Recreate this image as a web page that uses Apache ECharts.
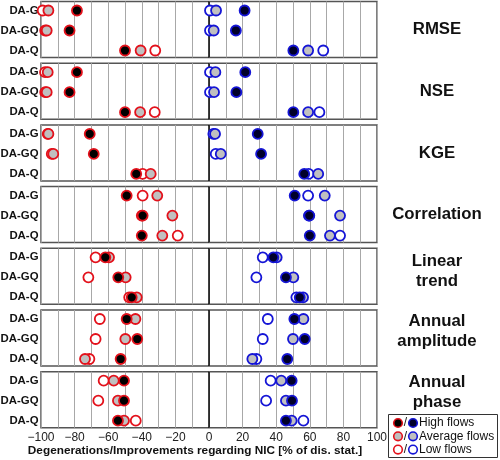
<!DOCTYPE html>
<html><head><meta charset="utf-8">
<script src="https://cdn.jsdelivr.net/npm/echarts@6/dist/echarts.min.js"></script>
<style>html,body{margin:0;padding:0;background:#fff}#c{width:500px;height:460px}</style>
</head><body><div id="c"></div>
<script>
// ---- data ----
const rows = ['DA-G', 'DA-GQ', 'DA-Q'];
const metrics = ['RMSE', 'NSE', 'KGE', 'Correlation', 'Linear\ntrend', 'Annual\namplitude', 'Annual\nphase'];
const xTicks = [-100, -80, -60, -40, -20, 0, 20, 40, 60, 80, 100];
// degenerations (% of stations, negative), rows DA-G, DA-GQ, DA-Q
const degHigh = [[-78.6,-83,-50],[-78.6,-83,-50],[-71,-68.6,-43.3],[-49,-39.5,-40],[-61.7,-54,-46],[-49,-42.7,-52.6],[-50.6,-50.6,-54.2]];
const degAvg  = [[-95.6,-96.6,-40.7],[-96,-96.6,-41],[-95.6,-92.7,-34.7],[-30.8,-21.8,-27.8],[-59.5,-49.6,-43],[-43.8,-49.8,-73.8],[-56.7,-54.2,-50.6]];
const degLow  = [[-99,-97.5,-32],[-97.6,-97.5,-32.3],[-96,-93.6,-39.5],[-39.5,-40,-18.6],[-67.5,-71.8,-47.5],[-65,-67.5,-71.2],[-62.7,-65.9,-43.6]];
// improvements (% of stations, positive)
const impHigh = [[21.2,16,50.2],[21.6,16.3,50.2],[29,31,56.7],[51,59.7,60],[38.3,45.8,54],[50.8,57,46.6],[49.2,49.4,45.8]];
const impAvg  = [[4.2,2.8,59],[3.8,3,59],[3.6,7,65],[68.9,78,72],[40.3,50.2,56],[56.2,50,25.8],[43,45.8,49.2]];
const impLow  = [[0.6,0.6,68],[0.6,0.6,65.7],[2.6,4,59.3],[59,59.5,78],[32,28.2,52],[35,32,28.2],[36.7,34,56.2]];
const legendLabels = ['High flows', 'Average flows', 'Low flows'];

// ---- styles ----
const RED = '#e3111b', BLUE = '#1515d6', GRAY = '#c0c0c0';
const FILL_HIGH_RED = '#000000', FILL_HIGH_BLUE = '#00002a';
const GL = 41, GW = 336, GT0 = 1.5, GSTEP = 61.7, GH = 56;
const FONT = '"Liberation Sans", Arial, Helvetica, sans-serif';
const titleShift = [0, 0, 0, 0, -4.5, -6.5, -7];

const grids = [], xAxes = [], yAxes = [], series = [], graphics = [];
const n = metrics.length;
for (let i = 0; i < n; i++) {
  const top = GT0 + i * GSTEP;
  grids.push({left: GL, width: GW, top: top, height: GH, show: true, borderColor: '#555', borderWidth: 1.5,
    backgroundColor: '#fff', containLabel: false, outerBoundsMode: 'none'});
  const last = i === n - 1;
  xAxes.push({
    type: 'value', gridIndex: i, min: -100, max: 100, interval: 10,
    axisLine: {show: false}, axisTick: {show: false},
    splitLine: {show: true, lineStyle: {color: '#a8a8a8', width: 1}},
    axisLabel: {show: last, margin: 4, fontSize: 12, color: '#222', fontFamily: FONT,
      formatter: v => (xTicks.indexOf(v) >= 0 ? (v < 0 ? '\u2212' + Math.abs(v) : String(v)) : '')},
    name: last ? 'Degenerations/Improvements regarding NIC [% of dis. stat.]' : '',
    nameLocation: 'middle', nameGap: 16,
    nameTextStyle: {fontSize: 11.8, fontWeight: 'bold', color: '#111', fontFamily: FONT, padding: [0, 28, 0, 0]}
  });
  yAxes.push({
    type: 'value', gridIndex: i, inverse: true, min: 0.55, max: 3.35,
    axisLine: {show: false}, axisTick: {show: false}, splitLine: {show: false},
    axisLabel: {customValues: [1, 2, 3], formatter: v => rows[Math.round(v) - 1] || '',
      fontSize: 11.4, fontWeight: 'bold', color: '#111', margin: 2.5, fontFamily: FONT}
  });
  const sets = [
    [degLow, '#fff', RED, 3], [degAvg, GRAY, RED, 4], [degHigh, FILL_HIGH_RED, RED, 5],
    [impLow, '#fff', BLUE, 3], [impAvg, GRAY, BLUE, 4], [impHigh, FILL_HIGH_BLUE, BLUE, 5]
  ];
  sets.forEach((s, k) => {
    const ser = {
      type: 'scatter', xAxisIndex: i, yAxisIndex: i, z: s[3], symbol: 'circle', symbolSize: 10,
      data: s[0][i].map((v, j) => [v, j + 1]),
      itemStyle: {color: s[1], borderColor: s[2], borderWidth: 1.8, opacity: 1},
      emphasis: {disabled: true}, silent: true
    };
    if (k === 0) {
      ser.markLine = {silent: true, symbol: 'none', label: {show: false}, animation: false, z: 2,
        lineStyle: {color: '#000', width: 1.5, type: 'solid'}, data: [{xAxis: 0}]};
    }
    series.push(ser);
  });
  // panel title on the right
  graphics.push({type: 'text', x: 437, y: top + GH / 2 + titleShift[i],
    style: {text: metrics[i], font: 'bold 16.8px ' + FONT, fill: '#111', align: 'center', verticalAlign: 'middle', lineHeight: 20}});
}
// legend box
graphics.push({type: 'rect', shape: {x: 388.5, y: 414.5, width: 109, height: 43},
  style: {fill: '#fff', stroke: '#333', lineWidth: 1}});
const legFills = [[FILL_HIGH_RED, FILL_HIGH_BLUE], [GRAY, GRAY], ['#fff', '#fff']];
legendLabels.forEach((lab, r) => {
  const y = 423 + r * 13.3;
  graphics.push({type: 'circle', shape: {cx: 398, cy: y, r: 4.3}, style: {fill: legFills[r][0], stroke: RED, lineWidth: 1.6}});
  graphics.push({type: 'text', x: 405.5, y: y, style: {text: '/', font: '12px ' + FONT, fill: '#111', align: 'center', verticalAlign: 'middle'}});
  graphics.push({type: 'circle', shape: {cx: 413, cy: y, r: 4.3}, style: {fill: legFills[r][1], stroke: BLUE, lineWidth: 1.6}});
  graphics.push({type: 'text', x: 419, y: y, style: {text: lab, font: '12px ' + FONT, fill: '#111', align: 'left', verticalAlign: 'middle'}});
});

const chart = echarts.init(document.getElementById('c'), null, {renderer: 'canvas'});
chart.setOption({
  animation: false, backgroundColor: '#fff',
  grid: grids, xAxis: xAxes, yAxis: yAxes, series: series,
  graphic: {elements: graphics}
});
</script></body></html>
